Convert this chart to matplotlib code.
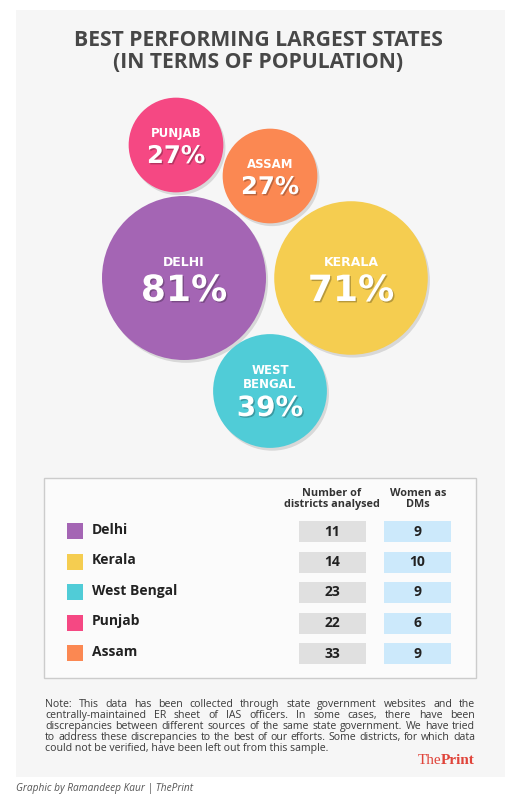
import matplotlib
matplotlib.use('agg')
import matplotlib.pyplot as plt
import matplotlib.patheffects as pe
from matplotlib.patches import Circle, Rectangle
import numpy as np

# data
states = ['Delhi', 'Kerala', 'West Bengal', 'Punjab', 'Assam']
pct = [81, 71, 39, 27, 27]
districts = [11, 14, 23, 22, 33]
women = [9, 10, 9, 6, 9]
colors = ['#a465b4', '#f5cd50', '#50ccd7', '#f54883', '#fb8852']
bubble_labels = ['DELHI', 'KERALA', 'WEST\nBENGAL', 'PUNJAB', 'ASSAM']

note_lines = [
    "Note: This data has been collected through state government websites and the",
    "centrally-maintained ER sheet of IAS officers. In some cases, there have been",
    "discrepancies between different sources of the same state government. We have tried",
    "to address these discrepancies to the best of our efforts. Some districts, for which data",
    "could not be verified, have been left out from this sample.",
]

W, H = 506, 799
fig = plt.figure(figsize=(W / 100, H / 100), dpi=100)
ax = fig.add_axes([0, 0, 1, 1])
ax.set_xlim(0, W)
ax.set_ylim(H, 0)
ax.axis('off')

FONT = 'Open Sans'
DARK = '#474747'

# card
ax.add_patch(Rectangle((16, 10), 490, 767, facecolor='#f6f6f6', edgecolor='none'))

ax.text(258, 40, 'BEST PERFORMING LARGEST STATES', ha='center', va='center',
        fontsize=15.2, fontweight='bold', color=DARK, family=FONT)
ax.text(258, 63, '(IN TERMS OF POPULATION)', ha='center', va='center',
        fontsize=15.2, fontweight='bold', color=DARK, family=FONT)

# bubbles: area proportional to value
centers = [(184, 278), (351, 278), (270, 391), (176, 145), (270, 176)]
scale = 82 / np.sqrt(max(pct))
shadow = [pe.SimplePatchShadow(offset=(1.5, -2), shadow_rgbFace='#000000', alpha=0.12), pe.Normal()]
tshadow = [pe.SimplePatchShadow(offset=(1, -1), shadow_rgbFace='#000000', alpha=0.25), pe.Normal()]
order = [3, 4, 0, 1, 2]
for i in order:
    cx, cy = centers[i]
    r = scale * np.sqrt(pct[i])
    c = Circle((cx, cy), r, facecolor=colors[i], edgecolor='none', zorder=2)
    c.set_path_effects(shadow)
    ax.add_patch(c)
    big = r > 70
    lab_fs = 9 if big else 8.5
    pct_fs = 26 if big else (20 if r > 52 else 17.5)
    if '\n' in bubble_labels[i]:
        l1, l2 = bubble_labels[i].split('\n')
        ax.text(cx, cy - 21, l1, ha='center', va='center', color='white', fontsize=lab_fs,
                fontweight='heavy', family='DejaVu Sans', zorder=3)
        ax.text(cx, cy - 6, l2, ha='center', va='center', color='white', fontsize=lab_fs,
                fontweight='heavy', family='DejaVu Sans', zorder=3)
        py = cy + 17
    else:
        off = 16 if big else 11
        ax.text(cx, cy - off, bubble_labels[i], ha='center', va='center', color='white',
                fontsize=lab_fs, fontweight='heavy', family='DejaVu Sans', zorder=3)
        py = cy + (13 if big else 11)
    t = ax.text(cx, py, f'{pct[i]}%', ha='center', va='center', color='white',
                fontsize=pct_fs, fontweight='heavy', family='DejaVu Sans', zorder=3)
    t.set_path_effects(tshadow)

# table
ax.add_patch(Rectangle((44, 478), 432, 200, facecolor='#fbfbfb', edgecolor='#cccccc', lw=1))
ax.text(332, 499, 'Number of\ndistricts analysed', ha='center', va='center', fontsize=7.8,
        fontweight='bold', color='#333333', family=FONT, linespacing=1.05)
ax.text(418, 499, 'Women as\nDMs', ha='center', va='center', fontsize=7.8,
        fontweight='bold', color='#333333', family=FONT, linespacing=1.05)
for k, s in enumerate(states):
    y = 531 + k * 30.5
    ax.add_patch(Rectangle((67, y - 8), 16, 16, facecolor=colors[k], edgecolor='none'))
    ax.text(92, y - 1, s, ha='left', va='center', fontsize=10, fontweight='bold',
            color='#222222', family=FONT)
    ax.add_patch(Rectangle((299, y - 10), 67, 21, facecolor='#e0e0e0', edgecolor='none'))
    ax.add_patch(Rectangle((384, y - 10), 67, 21, facecolor='#cce9fb', edgecolor='none'))
    ax.text(332.5, y + 0.5, str(districts[k]), ha='center', va='center', fontsize=10,
            fontweight='bold', color='#222222', family=FONT)
    ax.text(417.5, y + 0.5, str(women[k]), ha='center', va='center', fontsize=10,
            fontweight='bold', color='#222222', family=FONT)

# justified note, font size fitted to the longest line
fig.canvas.draw()
rend = fig.canvas.get_renderer()
x0, x1 = 45, 475
probe = ax.text(0, 0, note_lines[3], fontsize=8, family=FONT)
nfs = 8 * (x1 - x0) / probe.get_window_extent(rend).width * 0.995
probe.remove()
for n, line in enumerate(note_lines):
    y = 707 + n * 11
    words = line.split(' ')
    if n == len(note_lines) - 1:
        ax.text(x0, y, line, ha='left', va='baseline', fontsize=nfs, color='#3a3a3a', family=FONT)
        continue
    txts = [ax.text(0, y, w, ha='left', va='baseline', fontsize=nfs, color='#3a3a3a', family=FONT)
            for w in words]
    widths = [t.get_window_extent(rend).width for t in txts]
    gap = (x1 - x0 - sum(widths)) / (len(words) - 1)
    x = x0
    for t, w in zip(txts, widths):
        t.set_x(x)
        x += w + gap

# logo
p = ax.text(475, 764, 'Print', ha='right', va='baseline', fontsize=11, fontweight='bold',
            color='#e0443a', family='Liberation Serif')
pw = p.get_window_extent(rend).width
ax.text(475 - pw + 0.5, 764, 'The', ha='right', va='baseline', fontsize=11,
        color='#e0443a', family='Liberation Serif')

ax.text(16, 788, 'Graphic by Ramandeep Kaur | ThePrint', ha='left', va='center', fontsize=7.3,
        style='italic', color='#555555', family=FONT)

fig.savefig('out.png', dpi=100)
